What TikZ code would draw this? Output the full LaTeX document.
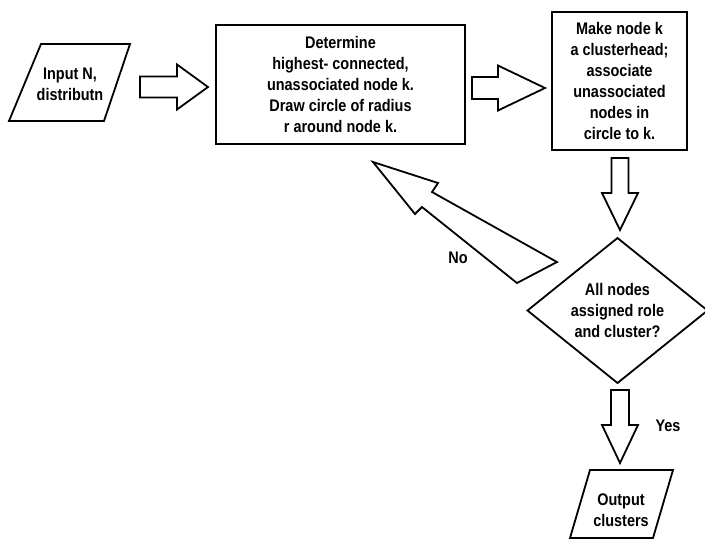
\documentclass[tikz,border=0pt]{standalone}
\usepackage{fontspec}
\setmainfont{Liberation Sans}[FakeStretch=0.86]
\usetikzlibrary{calc,shapes.geometric}

\tikzset{
  outline/.style={draw=black, line width=1.8pt, line join=miter},
  txt/.style={align=center, inner sep=0pt, outer sep=0pt,
              font=\bfseries\fontsize{16.8}{21}\selectfont},
  procbox/.style={outline, txt, rectangle},
  decision/.style={outline, txt, diamond, aspect=1.3},
  blockarrow/.style={draw=black, line width=1.8pt, line join=miter},
}

% hollow block arrow pointing right: from #1 to #2, shaft half-width #3,
% head half-width #4, head length #5
\newcommand\harrow[5]{%
  \draw[blockarrow] ($(#1)+(0,-#3)$) -- ($(#2)+(-#5,-#3)$) -- ($(#2)+(-#5,-#4)$)
    -- (#2) -- ($(#2)+(-#5,#4)$) -- ($(#2)+(-#5,#3)$) -- ($(#1)+(0,#3)$) -- cycle;}
% hollow block arrow pointing down
\newcommand\varrow[5]{%
  \draw[blockarrow] ($(#1)+(-#3,0)$) -- ($(#2)+(-#3,-#5)$) -- ($(#2)+(-#4,-#5)$)
    -- (#2) -- ($(#2)+(#4,-#5)$) -- ($(#2)+(#3,-#5)$) -- ($(#1)+(#3,0)$) -- cycle;}

\begin{document}
\begin{tikzpicture}[x=1pt, y=-1pt]
\useasboundingbox (0,0) rectangle (705,542);

% input data
\node[txt] (input) at (70,84) {Input N,\\distributn};
\draw[outline] ($(input)+(-61,37)$) -- ($(input)+(-29,-40)$)
  -- ($(input)+(60,-40)$) -- ($(input)+(34,37)$) -- cycle;

% processing steps
\node[procbox, minimum width=249pt, minimum height=119pt] (determine) at (340.5,84.5)
  {Determine\\highest- connected,\\unassociated node k.\\Draw circle of radius\\r around node k.};
\node[procbox, minimum width=135pt, minimum height=138pt] (head) at (619.5,81)
  {Make node k\\a clusterhead;\\associate\\unassociated\\nodes in\\circle to k.};

% test
\node[decision, minimum width=180pt, minimum height=145pt] (check) at (617.5,310.5)
  {All nodes\\assigned role\\and cluster?};

% output data
\node[txt] (output) at (621,510) {Output\\clusters};
\draw[outline] ($(output)+(-51,28)$) -- ($(output)+(-31,-40)$)
  -- ($(output)+(52,-40)$) -- ($(output)+(32,28)$) -- cycle;

% block arrows
\coordinate (a1s) at ($(input)+(70,3)$);
\coordinate (a1t) at ($(determine.west)+(-8,2.5)$);
\harrow{a1s}{a1t}{10.5}{22.5}{31}

\coordinate (a2s) at ($(determine.east)+(7,3.5)$);
\coordinate (a2t) at ($(head.west)+(-7,7)$);
\harrow{a2s}{a2t}{11}{22.5}{47}

\coordinate (a3s) at ($(head.south)+(0.5,8)$);
\coordinate (a3t) at ($(check.north)+(2.5,-8)$);
\varrow{a3s}{a3t}{8.5}{18}{37}

\coordinate (a4s) at ($(check.south)+(2.5,7)$);
\coordinate (a4t) at ($(output)+(-1,-47)$);
\varrow{a4s}{a4t}{9}{18}{38}

% tapered "No" arrow back to the determine step
\draw[blockarrow] (373,162) -- (438,183) -- (432,192) -- (557,262)
  -- (517,283) -- (422,207) -- (415,214) -- cycle;

% branch labels
\node[txt] (no) at (458,258) {No};
\node[txt] (yes) at (668,426) {Yes};
\end{tikzpicture}
\end{document}
